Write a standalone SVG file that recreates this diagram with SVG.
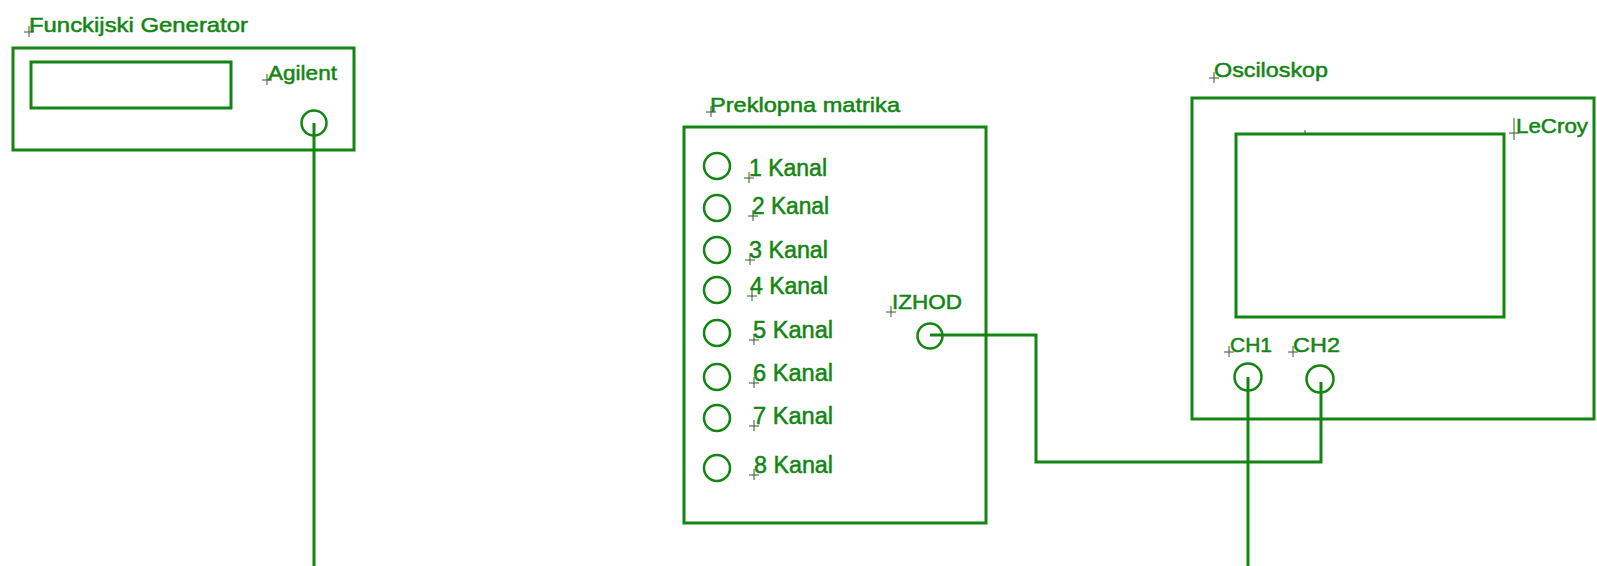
<svg xmlns="http://www.w3.org/2000/svg" width="1597" height="566" viewBox="0 0 1597 566">
<style>
.box{fill:none;stroke:#128512;stroke-width:3}
.port{fill:none;stroke:#128512;stroke-width:2.5}
.wire{fill:none;stroke:#128512;stroke-width:3}
.lbl{font-family:"Liberation Sans",Arial,sans-serif;font-size:21px;fill:#128512;stroke:#128512;stroke-width:0.5}
.big{font-size:23px}
.mk{stroke:#2f5a2f;stroke-width:1;fill:none}
</style>
<defs>
<path id="cross" d="M-5 0H5M0 -6V5" class="mk"/>
</defs>
<rect width="1597" height="566" fill="#ffffff"/>

<g id="generator">
<rect class="box" x="13" y="48" width="341" height="102"/>
<rect class="box" x="31" y="62" width="200" height="46"/>
<text class="lbl" x="29" y="32" textLength="219" lengthAdjust="spacingAndGlyphs">Funckijski Generator</text>
<use href="#cross" x="29" y="32"/>
<text class="lbl" x="268" y="80" textLength="69" lengthAdjust="spacingAndGlyphs">Agilent</text>
<use href="#cross" x="267" y="80"/>
<circle class="port" cx="314" cy="123" r="12.5"/>
</g>

<g id="matrika">
<rect class="box" x="684" y="127" width="302" height="396"/>
<text class="lbl" x="710" y="112" textLength="190" lengthAdjust="spacingAndGlyphs">Preklopna matrika</text>
<use href="#cross" x="711" y="112"/>
<circle class="port" cx="717" cy="166" r="13"/>
<circle class="port" cx="717" cy="208" r="13"/>
<circle class="port" cx="717" cy="250" r="13"/>
<circle class="port" cx="717" cy="290" r="13"/>
<circle class="port" cx="717" cy="333" r="13"/>
<circle class="port" cx="717" cy="377" r="13"/>
<circle class="port" cx="717" cy="418" r="13"/>
<circle class="port" cx="717" cy="468" r="13"/>
<text class="lbl big" x="749" y="176" textLength="78" lengthAdjust="spacingAndGlyphs">1 Kanal</text>
<text class="lbl big" x="752" y="214" textLength="77" lengthAdjust="spacingAndGlyphs">2 Kanal</text>
<text class="lbl big" x="749" y="258" textLength="79" lengthAdjust="spacingAndGlyphs">3 Kanal</text>
<text class="lbl big" x="750" y="294" textLength="78" lengthAdjust="spacingAndGlyphs">4 Kanal</text>
<text class="lbl big" x="753" y="338" textLength="80" lengthAdjust="spacingAndGlyphs">5 Kanal</text>
<text class="lbl big" x="753" y="381" textLength="80" lengthAdjust="spacingAndGlyphs">6 Kanal</text>
<text class="lbl big" x="753" y="424" textLength="80" lengthAdjust="spacingAndGlyphs">7 Kanal</text>
<text class="lbl big" x="754" y="473" textLength="79" lengthAdjust="spacingAndGlyphs">8 Kanal</text>
<use href="#cross" x="749" y="178"/>
<use href="#cross" x="753" y="216"/>
<use href="#cross" x="750" y="260"/>
<use href="#cross" x="752" y="296"/>
<use href="#cross" x="754" y="340"/>
<use href="#cross" x="754" y="383"/>
<use href="#cross" x="754" y="426"/>
<use href="#cross" x="754" y="475"/>
<text class="lbl" x="892" y="309" textLength="70" lengthAdjust="spacingAndGlyphs">IZHOD</text>
<use href="#cross" x="891" y="312"/>
<circle class="port" cx="930" cy="336" r="12.5"/>
</g>

<g id="osciloskop">
<rect class="box" x="1192" y="98" width="402" height="321"/>
<rect class="box" x="1236" y="134" width="268" height="183"/>
<path class="mk" d="M1305 130V133" stroke-width="2"/>
<text class="lbl" x="1214" y="77" textLength="114" lengthAdjust="spacingAndGlyphs">Osciloskop</text>
<use href="#cross" x="1214" y="78"/>
<text class="lbl" x="1516" y="133" textLength="72" lengthAdjust="spacingAndGlyphs">LeCroy</text>
<path class="mk" d="M1514 118V140M1509 133H1519" stroke-width="1.5"/>
<text class="lbl" x="1230" y="352" textLength="42" lengthAdjust="spacingAndGlyphs">CH1</text>
<use href="#cross" x="1229" y="352"/>
<text class="lbl" x="1293" y="352" textLength="47" lengthAdjust="spacingAndGlyphs">CH2</text>
<use href="#cross" x="1293" y="352"/>
<circle class="port" cx="1248" cy="377" r="13.5"/>
<circle class="port" cx="1320" cy="379" r="13.5"/>
</g>

<g id="connectors">
<path class="wire" d="M314 123V566"/>
<path class="wire" d="M1248 377V566"/>
<path class="wire" d="M930 335H1036V462H1321V382"/>
</g>
</svg>
